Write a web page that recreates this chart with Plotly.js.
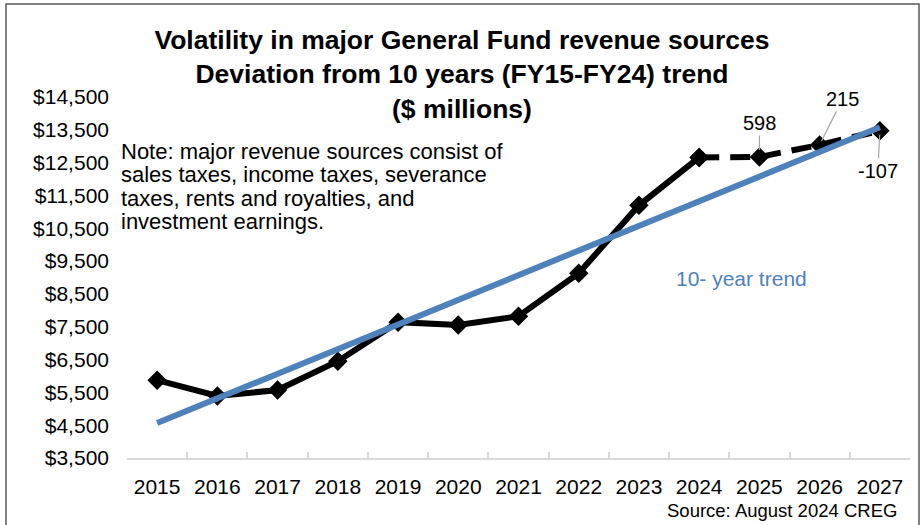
<!DOCTYPE html>
<html>
<head>
<meta charset="utf-8">
<script src="https://cdn.plot.ly/plotly-3.0.1.min.js"></script>
<style>html,body{margin:0;padding:0;background:#fff;}#chart{width:924px;height:525px;}</style>
</head>
<body>
<div id="chart"></div>
<script>
// Data ($ millions)
const years = ['2015','2016','2017','2018','2019','2020','2021','2022','2023','2024','2025','2026','2027'];
const actualYears = ['2015','2016','2017','2018','2019','2020','2021','2022','2023','2024'];
const actualValues = [5870, 5390, 5570, 6450, 7640, 7550, 7820, 9130, 11200, 12660];
const forecastYears = ['2024','2025','2026','2027'];
const forecastValues = [12660, 12673, 13041, 13470];
const trendYears = ['2015','2027'];
const trendValues = [4565, 13577];
const deviationYears = ['2025','2026','2027'];
const deviationLabels = ['598','215','-107'];
const yTicks = [3500,4500,5500,6500,7500,8500,9500,10500,11500,12500,13500,14500];
const noteLines = [
  'Note: major revenue sources consist of',
  'sales taxes, income taxes, severance',
  'taxes, rents and royalties, and',
  'investment earnings.'
];

const FONT = 'Liberation Sans, Arial, sans-serif';
const BLUE = '#4F81BD';

const traces = [
  {x: actualYears, y: actualValues, type: 'scatter', mode: 'lines+markers',
   line: {color: '#000', width: 6}, marker: {symbol: 'diamond', size: 15, color: '#000'},
   showlegend: false},
  {x: forecastYears, y: forecastValues, type: 'scatter', mode: 'lines+markers',
   line: {color: '#000', width: 6, dash: '20px,11px'}, marker: {symbol: 'diamond', size: 15, color: '#000'},
   showlegend: false},
  {x: trendYears, y: trendValues, type: 'scatter', mode: 'lines',
   line: {color: BLUE, width: 6}, showlegend: false}
];

const offsets = [[0, -34, 7], [23, -46, 4], [-2, 40, 4]];
const annotations = deviationYears.map((yr, i) => ({
  x: years.indexOf(yr), y: forecastValues[forecastYears.indexOf(yr)], xref: 'x', yref: 'y',
  text: deviationLabels[i], showarrow: true, arrowhead: 0, arrowwidth: 1.2, arrowcolor: '#A6A6A6',
  ax: offsets[i][0], ay: offsets[i][1], standoff: offsets[i][2],
  font: {family: FONT, size: 20, color: '#000'}
}));
const noteY = [151, 174.5, 198, 221.5];
noteLines.forEach((t, i) => annotations.push({
  xref: 'paper', yref: 'paper', x: (119 - 127) / 783, y: (458 - noteY[i]) / 361,
  xanchor: 'left', yanchor: 'middle', align: 'left', showarrow: false,
  text: t, font: {family: FONT, size: 22, color: '#000'}
}));
annotations.push({
  xref: 'paper', yref: 'paper', x: (741 - 127) / 783, y: (458 - 278) / 361, xanchor: 'center', yanchor: 'middle',
  showarrow: false, text: '10- year trend', font: {family: FONT, size: 21, color: BLUE}
});
annotations.push({
  xref: 'paper', yref: 'paper', x: (899 - 127) / 783, y: (458 - 510) / 361, xanchor: 'right', yanchor: 'middle',
  showarrow: false, text: 'Source: August 2024 CREG', font: {family: FONT, size: 18.5, color: '#000'}
});

const layout = {
  width: 924, height: 525,
  margin: {l: 127, r: 14, t: 97, b: 67},
  paper_bgcolor: '#fff', plot_bgcolor: '#fff',
  font: {family: FONT, color: '#000'},
  title: {
    text: '<b>Volatility in major General Fund revenue sources<br>Deviation from 10 years (FY15-FY24) trend<br>($ millions)</b>',
    font: {family: FONT, size: 26.5, color: '#000'},
    x: 0.5, xref: 'container', xanchor: 'center', y: 1 - 49/525, yref: 'container', yanchor: 'middle'
  },
  xaxis: {
    type: 'category', categoryorder: 'array', categoryarray: years,
    range: [-0.5, 12.5], tickson: 'boundaries', ticks: 'inside', ticklen: 6, tickcolor: '#D9D9D9', tickwidth: 2,
    showline: true, linecolor: '#D9D9D9', linewidth: 2, showgrid: false, zeroline: false,
    tickfont: {family: FONT, size: 21, color: '#000'}, ticklabelstandoff: 9, fixedrange: true
  },
  yaxis: {
    range: [3500, 14500], tickmode: 'array', tickvals: yTicks, tickformat: '$,.0f',
    showgrid: false, zeroline: false, showline: false, ticks: '',
    tickfont: {family: FONT, size: 21, color: '#000'}, ticklabelstandoff: 17, fixedrange: true
  },
  annotations: annotations,
  shapes: [{
    type: 'rect', xref: 'paper', yref: 'paper',
    x0: (6 - 127) / 783, x1: (919 - 127) / 783, y0: -0.4, y1: (458 - 4) / 361,
    line: {color: '#595959', width: 1.5}, fillcolor: 'rgba(0,0,0,0)', layer: 'below'
  }],
  showlegend: false
};

Plotly.newPlot('chart', traces, layout, {displayModeBar: false, staticPlot: true});
</script>
</body>
</html>
